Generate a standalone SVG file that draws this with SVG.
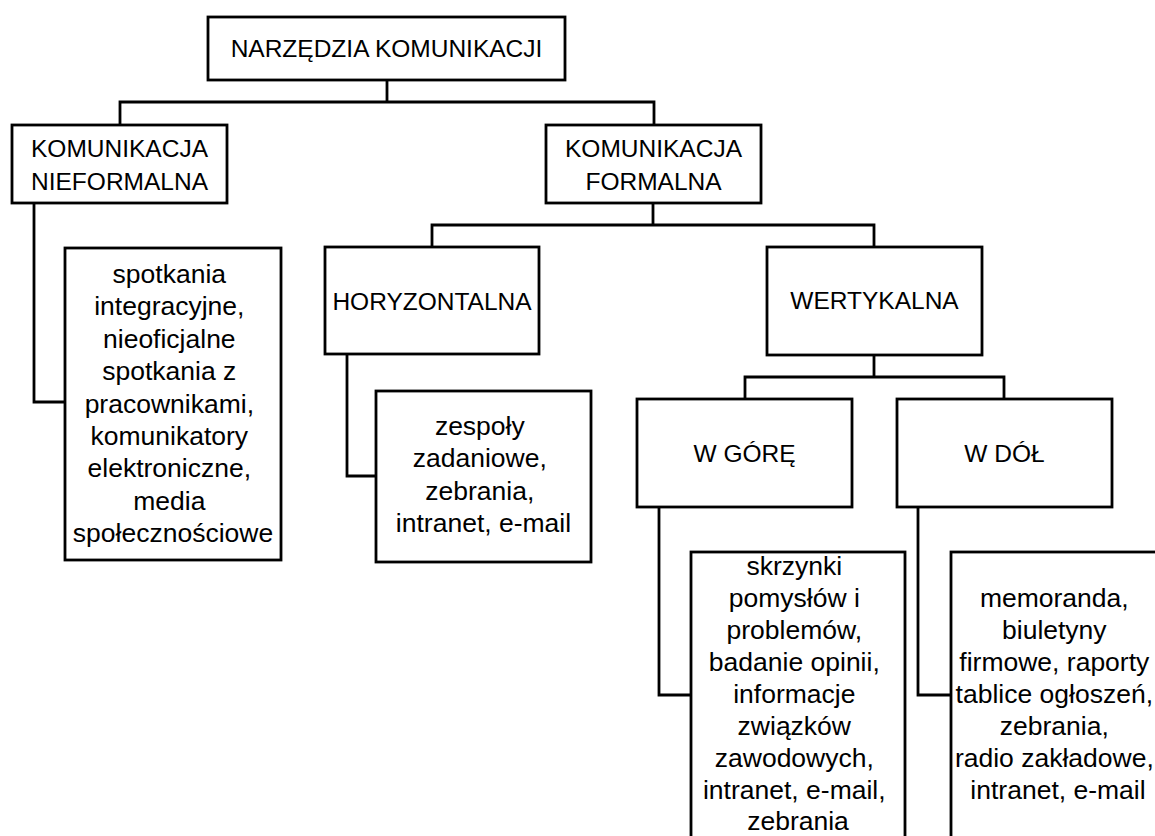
<svg xmlns="http://www.w3.org/2000/svg" width="1155" height="836" viewBox="0 0 1155 836">
  <style>
    .box { fill: #fff; stroke: #000; stroke-width: 2.8; }
    .conn { fill: none; stroke: #000; stroke-width: 2.8; }
    text { font-family: "Liberation Sans", Arial, sans-serif; fill: #000; text-anchor: middle; }
    .cap { font-size: 24.5px; }
    .lst { font-size: 26.5px; }
  </style>
  <rect width="1155" height="836" fill="#fff"/>

  <!-- connectors -->
  <g id="connectors">
    <path class="conn" d="M387 80 V102 M120 125 V102 H654 V125"/>
    <path class="conn" d="M34 203 V402 H65"/>
    <path class="conn" d="M653 203 V225 M432 247 V225 H874 V247"/>
    <path class="conn" d="M347 354 V476 H376"/>
    <path class="conn" d="M874 355 V377 M745 399 V377 H1004 V399"/>
    <path class="conn" d="M659 507 V695 H691"/>
    <path class="conn" d="M918 507 V695 H951"/>
  </g>

  <g id="root">
    <rect class="box" x="208" y="17" width="357" height="63"/>
    <text class="cap" x="386.5" y="57">NARZĘDZIA KOMUNIKACJI</text>
  </g>

  <g id="nieformalna">
    <rect class="box" x="12" y="125" width="215" height="78"/>
    <text class="cap" x="119.5" y="157">KOMUNIKACJA</text>
    <text class="cap" x="119.5" y="190">NIEFORMALNA</text>
  </g>

  <g id="formalna">
    <rect class="box" x="546" y="125" width="215" height="78"/>
    <text class="cap" x="653.5" y="157">KOMUNIKACJA</text>
    <text class="cap" x="653.5" y="190">FORMALNA</text>
  </g>

  <g id="nieformalna-tools">
    <rect class="box" x="65" y="248" width="216" height="312"/>
    <text class="lst" x="173">
      <tspan x="173" y="283">spotkania</tspan>
      <tspan x="173" y="315.4">integracyjne,</tspan>
      <tspan x="173" y="347.8">nieoficjalne</tspan>
      <tspan x="173" y="380.2">spotkania z</tspan>
      <tspan x="173" y="412.6">pracownikami,</tspan>
      <tspan x="173" y="445">komunikatory</tspan>
      <tspan x="173" y="477.4">elektroniczne,</tspan>
      <tspan x="173" y="509.8">media</tspan>
      <tspan x="173" y="542.2">społecznościowe</tspan>
    </text>
  </g>

  <g id="horyzontalna">
    <rect class="box" x="325" y="247" width="214" height="107"/>
    <text class="cap" x="432" y="310">HORYZONTALNA</text>
  </g>

  <g id="wertykalna">
    <rect class="box" x="767" y="247" width="215" height="108"/>
    <text class="cap" x="874.5" y="309">WERTYKALNA</text>
  </g>

  <g id="horyzontalna-tools">
    <rect class="box" x="376" y="391" width="215" height="171"/>
    <text class="lst">
      <tspan x="483.5" y="435">zespoły</tspan>
      <tspan x="483.5" y="467.4">zadaniowe,</tspan>
      <tspan x="483.5" y="499.8">zebrania,</tspan>
      <tspan x="483.5" y="532.2">intranet, e-mail</tspan>
    </text>
  </g>

  <g id="w-gore">
    <rect class="box" x="637" y="399" width="215" height="108"/>
    <text class="cap" x="744.5" y="462">W GÓRĘ</text>
  </g>

  <g id="w-dol">
    <rect class="box" x="897" y="399" width="215" height="108"/>
    <text class="cap" x="1004.5" y="462">W DÓŁ</text>
  </g>

  <g id="w-gore-tools">
    <rect class="box" x="691" y="552" width="214" height="300"/>
    <text class="lst">
      <tspan x="798" y="575">skrzynki</tspan>
      <tspan x="798" y="607">pomysłów i</tspan>
      <tspan x="798" y="639">problemów,</tspan>
      <tspan x="798" y="671">badanie opinii,</tspan>
      <tspan x="798" y="703">informacje</tspan>
      <tspan x="798" y="735">związków</tspan>
      <tspan x="798" y="767">zawodowych,</tspan>
      <tspan x="798" y="799">intranet, e-mail,</tspan>
      <tspan x="798" y="830">zebrania</tspan>
    </text>
  </g>

  <g id="w-dol-tools">
    <rect class="box" x="951" y="552" width="214" height="300"/>
    <text class="lst">
      <tspan x="1058" y="607">memoranda,</tspan>
      <tspan x="1058" y="639">biuletyny</tspan>
      <tspan x="1058" y="671">firmowe, raporty</tspan>
      <tspan x="1058" y="703">tablice ogłoszeń,</tspan>
      <tspan x="1058" y="735">zebrania,</tspan>
      <tspan x="1058" y="767">radio zakładowe,</tspan>
      <tspan x="1058" y="799">intranet, e-mail</tspan>
    </text>
  </g>
</svg>
